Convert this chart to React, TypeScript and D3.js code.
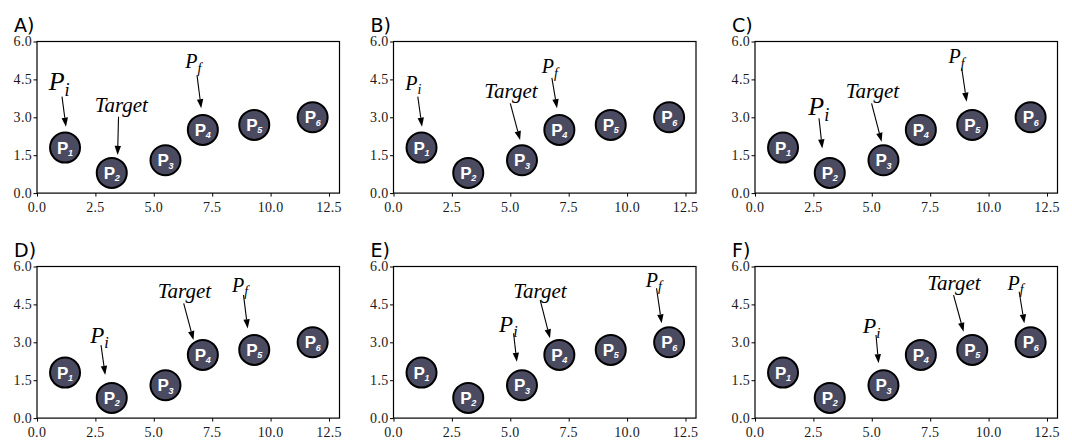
import React, { useEffect, useRef } from "react";
import * as d3 from "d3";

// points (same in every panel)
const pointX = [1.2, 3.2, 5.5, 7.1, 9.3, 11.8];
const pointY = [1.8, 0.8, 1.3, 2.5, 2.7, 3.0];
const pointNames = ["1", "2", "3", "4", "5", "6"];

const xTicks = [0, 2.5, 5, 7.5, 10, 12.5];
const yTicks = [0, 1.5, 3, 4.5, 6];
const panelTitles = ["A)", "B)", "C)", "D)", "E)", "F)"];

// annotations in data coords: [textX, textY, tailX, tailY, headX, headY]
const piNotes = [
  [0.5, 4.08, 1.07, 3.82, 1.24, 2.63],
  [0.5, 4.08, 1.04, 3.82, 1.22, 2.63],
  [2.28, 3.09, 2.74, 2.96, 2.88, 1.77],
  [2.28, 2.96, 2.74, 2.89, 2.92, 1.71],
  [4.52, 3.42, 5.14, 3.36, 5.28, 2.23],
  [4.61, 3.36, 5.18, 3.29, 5.29, 2.17],
];
const targetNotes = [
  [3.61, 3.22, 3.49, 3.02, 3.45, 1.51],
  [5.03, 3.75, 5.0, 3.55, 5.42, 2.1],
  [5.03, 3.75, 4.99, 3.55, 5.42, 2.03],
  [6.31, 4.74, 6.28, 4.54, 6.7, 3.09],
  [6.27, 4.74, 6.28, 4.67, 6.7, 3.16],
  [8.52, 5.07, 8.5, 4.87, 8.93, 3.42],
];
const pfNotes = [
  [6.35, 4.94, 6.85, 4.67, 7.03, 3.36],
  [6.35, 4.74, 6.78, 4.56, 7.0, 3.36],
  [8.28, 5.14, 8.85, 4.94, 9.06, 3.62],
  [8.35, 5.0, 8.84, 4.87, 9.02, 3.55],
  [10.8, 5.2, 11.26, 5.14, 11.48, 3.75],
  [10.81, 5.07, 11.31, 5.0, 11.53, 3.75],
];
const piSizes = [26, 20, 26, 23, 23, 22];

const panelLeft = [37, 393.5, 755];
const panelTop = [41.5, 266.5];
const W = 302.5;
const H = 151.6;
const serif = "Liberation Serif, DejaVu Serif, serif";
const sans = "Liberation Sans, Arial, sans-serif";
const fmt = d3.format(".1f");

function Arrow({ x1, y1, x2, y2 }) {
  const dx = x2 - x1, dy = y2 - y1;
  const len = Math.sqrt(dx * dx + dy * dy);
  const ux = dx / len, uy = dy / len;
  const bx = x2 - ux * 9, by = y2 - uy * 9;
  const nx = -uy * 3.2, ny = ux * 3.2;
  return (
    <g>
      <line x1={x1} y1={y1} x2={bx} y2={by} stroke="#000" strokeWidth={1.1} />
      <polygon points={`${x2},${y2} ${bx + nx},${by + ny} ${bx - nx},${by - ny}`} fill="#000" />
    </g>
  );
}

function SubLabel({ x, y, main, sub, size }) {
  return (
    <text x={x} y={y} style={{ fontFamily: serif, fontStyle: "italic", fontSize: size }} fill="#000">
      {main}
      <tspan style={{ fontSize: size * 0.7 }} dy={size * 0.22}>{sub}</tspan>
    </text>
  );
}

function Panel({ index }) {
  const xRef = useRef(null);
  const yRef = useRef(null);
  const col = index % 3, row = Math.floor(index / 3);
  const left = panelLeft[col], top = panelTop[row];
  const x = d3.scaleLinear().domain([0, 12.95]).range([0, W]);
  const y = d3.scaleLinear().domain([0, 6]).range([H, 0]);

  useEffect(() => {
    // tick marks from d3 axes; labels are drawn below as JSX
    d3.select(xRef.current)
      .call(d3.axisBottom(x).tickValues(xTicks).tickFormat(() => "").tickSize(3.5))
      .call((g) => g.select(".domain").remove());
    d3.select(yRef.current)
      .call(d3.axisLeft(y).tickValues(yTicks).tickFormat(() => "").tickSize(3.5))
      .call((g) => g.select(".domain").remove());
  }, []);

  const pi = piNotes[index], tg = targetNotes[index], pf = pfNotes[index];

  return (
    <g>
      <text x={left - 23} y={top - 10} style={{ fontFamily: "DejaVu Sans, sans-serif", fontSize: 19 }} fill="#000">
        {panelTitles[index]}
      </text>
      <g transform={`translate(${left},${top})`}>
        <g ref={xRef} transform={`translate(0,${H})`} />
        <g ref={yRef} />
        {xTicks.map((v) => (
          <text key={"x" + v} x={x(v)} y={H + 18.5} textAnchor="middle"
            style={{ fontFamily: serif, fontSize: 14, letterSpacing: 0.3 }} fill="#1a1a1a">{fmt(v)}</text>
        ))}
        {yTicks.map((v) => (
          <text key={"y" + v} x={-5} y={y(v) + 4.5} textAnchor="end"
            style={{ fontFamily: serif, fontSize: 14, letterSpacing: 0.3 }} fill="#1a1a1a">{fmt(v)}</text>
        ))}
        {pointX.map((px, i) => {
          const cx = x(px), cy = y(pointY[i]);
          return (
            <g key={i}>
              <circle cx={cx} cy={cy} r={15} fill="#4a4b61" stroke="#000" strokeWidth={2} />
              <text x={cx - 8} y={cy + 6} style={{ fontFamily: sans, fontWeight: "bold", fontSize: 17 }} fill="#fff">P</text>
              <text x={cx + 3} y={cy + 8.5} style={{ fontFamily: sans, fontWeight: "bold", fontStyle: "italic", fontSize: 9 }} fill="#fff">{pointNames[i]}</text>
            </g>
          );
        })}
        <SubLabel x={x(pi[0])} y={y(pi[1])} main="P" sub="i" size={piSizes[index]} />
        <Arrow x1={x(pi[2])} y1={y(pi[3])} x2={x(pi[4])} y2={y(pi[5])} />
        <text x={x(tg[0])} y={y(tg[1])} textAnchor="middle" style={{ fontFamily: serif, fontStyle: "italic", fontSize: 21 }} fill="#000">Target</text>
        <Arrow x1={x(tg[2])} y1={y(tg[3])} x2={x(tg[4])} y2={y(tg[5])} />
        <SubLabel x={x(pf[0])} y={y(pf[1])} main="P" sub="f" size={20} />
        <Arrow x1={x(pf[2])} y1={y(pf[3])} x2={x(pf[4])} y2={y(pf[5])} />
        <rect x={0} y={0} width={W} height={H} fill="none" stroke="#000" strokeWidth={1.2} />
      </g>
    </g>
  );
}

export default function App() {
  return (
    <svg width={1072} height={440} style={{ position: "absolute", left: 0, top: 0, background: "#fff" }}>
      {panelTitles.map((t, i) => (
        <Panel key={t} index={i} />
      ))}
    </svg>
  );
}
